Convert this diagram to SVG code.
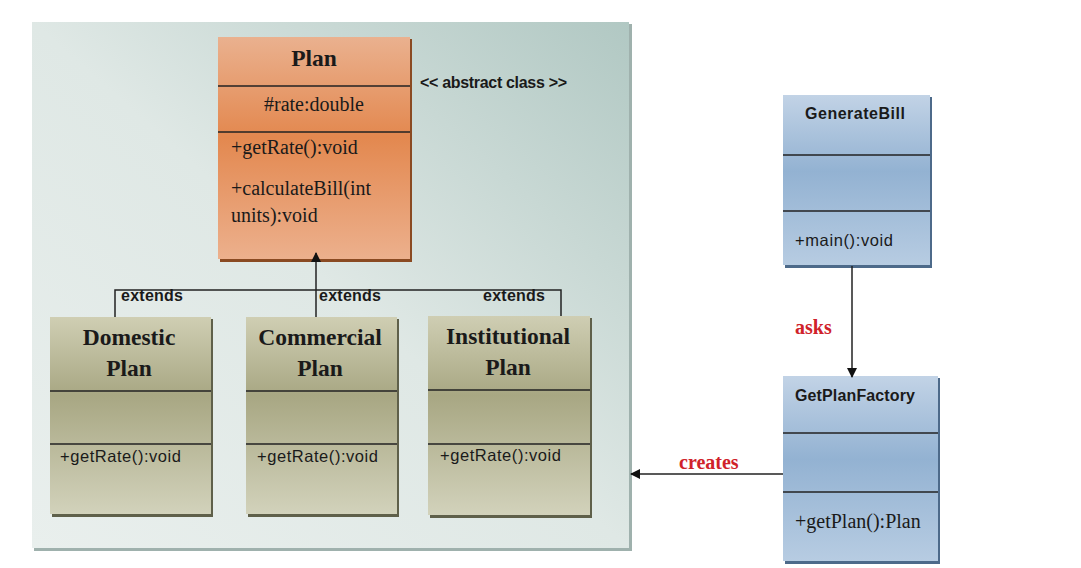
<svg xmlns="http://www.w3.org/2000/svg" width="1081" height="568" viewBox="0 0 1081 568">
<defs>
<linearGradient id="bg" x1="0" y1="1" x2="1" y2="0">
<stop offset="0" stop-color="#e9efed"/>
<stop offset="0.5" stop-color="#dfe8e5"/>
<stop offset="1" stop-color="#b1c8c3"/>
</linearGradient>
<linearGradient id="orange" x1="0" y1="0" x2="0" y2="1">
<stop offset="0" stop-color="#eab18f"/>
<stop offset="0.45" stop-color="#e3884f"/>
<stop offset="1" stop-color="#ecb08d"/>
</linearGradient>
<linearGradient id="olive" x1="0" y1="0" x2="0" y2="1">
<stop offset="0" stop-color="#cfceb3"/>
<stop offset="0.4" stop-color="#a8a783"/>
<stop offset="1" stop-color="#d2d2bb"/>
</linearGradient>
<linearGradient id="blue" x1="0" y1="0" x2="0" y2="1">
<stop offset="0" stop-color="#c2d3e6"/>
<stop offset="0.45" stop-color="#93b2d2"/>
<stop offset="1" stop-color="#b7cce2"/>
</linearGradient>
<marker id="arr" viewBox="0 0 10 10" refX="9" refY="5" markerWidth="10" markerHeight="10" markerUnits="userSpaceOnUse" orient="auto">
<path d="M0,0 L10,5 L0,10 z" fill="#111"/>
</marker>
</defs>
<style>
.div{stroke:#222;stroke-width:1.3}
.ttl{font-family:"Liberation Serif",serif;font-weight:bold;font-size:23.5px;fill:#1a1a1a;text-anchor:middle}
.ser{font-family:"Liberation Serif",serif;font-size:20px;fill:#1a1a1a}
.sans{font-family:"Liberation Sans",Arial,sans-serif;font-size:16.5px;fill:#1a1a1a}
.lbl{font-family:"Liberation Sans",Arial,sans-serif;font-size:16px;font-weight:bold;fill:#1a1a1a}
.red{font-family:"Liberation Serif",serif;font-size:20px;font-weight:bold;fill:#d0222a}
.line{stroke:#222;stroke-width:1.5;fill:none}
</style>
<rect width="1081" height="568" fill="#ffffff"/>
<g id="container">
<rect x="34" y="24" width="598" height="527" fill="#9fb1ad"/>
<rect x="32" y="22" width="597" height="526" fill="url(#bg)"/>
</g>
<g id="plan">
<rect x="220" y="39" width="192" height="223" fill="#8a4a22"/>
<rect x="218" y="37" width="192" height="222" fill="url(#orange)"/>
<line class="div" x1="218" y1="86" x2="410" y2="86"/>
<line class="div" x1="218" y1="132" x2="410" y2="132"/>
<text class="ttl" x="314" y="66">Plan</text>
<text class="ser" x="314" y="111" text-anchor="middle">#rate:double</text>
<text class="ser" x="231" y="154">+getRate():void</text>
<text class="ser" x="231" y="195">+calculateBill(int</text>
<text class="ser" x="231" y="222">units):void</text>
</g>
<g id="stereotype">
<text class="lbl" x="420" y="88" font-size="15.5" textLength="147">&lt;&lt; abstract class &gt;&gt;</text>
</g>
<g id="domestic">
<rect x="52" y="319" width="161" height="198" fill="#5f604a"/>
<rect x="50" y="317" width="161" height="197" fill="url(#olive)"/>
<line class="div" x1="50" y1="391" x2="211" y2="391"/>
<line class="div" x1="50" y1="444" x2="211" y2="444"/>
<text class="ttl" x="129" y="345">Domestic</text>
<text class="ttl" x="129" y="376">Plan</text>
<text class="sans" x="60" y="462" textLength="121">+getRate():void</text>
</g>
<g id="commercial">
<rect x="248" y="319" width="151" height="198" fill="#5f604a"/>
<rect x="246" y="317" width="151" height="197" fill="url(#olive)"/>
<line class="div" x1="246" y1="391" x2="397" y2="391"/>
<line class="div" x1="246" y1="444" x2="397" y2="444"/>
<text class="ttl" x="320" y="345">Commercial</text>
<text class="ttl" x="320" y="376">Plan</text>
<text class="sans" x="257" y="462" textLength="121">+getRate():void</text>
</g>
<g id="institutional">
<rect x="430" y="318" width="162" height="200" fill="#5f604a"/>
<rect x="428" y="316" width="162" height="199" fill="url(#olive)"/>
<line class="div" x1="428" y1="390" x2="590" y2="390"/>
<line class="div" x1="428" y1="444" x2="590" y2="444"/>
<text class="ttl" x="508" y="344">Institutional</text>
<text class="ttl" x="508" y="375">Plan</text>
<text class="sans" x="440" y="461" textLength="121">+getRate():void</text>
</g>
<g id="generatebill">
<rect x="785" y="97" width="147" height="171" fill="#4d6a8a"/>
<rect x="783" y="95" width="147" height="170" fill="url(#blue)"/>
<line class="div" x1="783" y1="155" x2="930" y2="155"/>
<line class="div" x1="783" y1="211" x2="930" y2="211"/>
<text class="lbl" x="855" y="119" text-anchor="middle" textLength="100">GenerateBill</text>
<text class="sans" x="795" y="246" textLength="98">+main():void</text>
</g>
<g id="getplanfactory">
<rect x="785" y="378" width="155" height="186" fill="#4d6a8a"/>
<rect x="783" y="376" width="155" height="185" fill="url(#blue)"/>
<line class="div" x1="783" y1="433" x2="938" y2="433"/>
<line class="div" x1="783" y1="492" x2="938" y2="492"/>
<text class="lbl" x="795" y="401" textLength="120">GetPlanFactory</text>
<text class="ser" x="795" y="528">+getPlan():Plan</text>
</g>
<g id="connectors">
<path class="line" d="M115,317 V290 H561 V316"/>
<path class="line" d="M316,317 V290"/>
<line class="line" x1="316" y1="290" x2="316" y2="253" marker-end="url(#arr)"/>
<line class="line" x1="852" y1="266" x2="852" y2="377" marker-end="url(#arr)"/>
<line class="line" x1="783" y1="474" x2="631" y2="474" marker-end="url(#arr)"/>
<text class="lbl" x="121" y="301" textLength="62">extends</text>
<text class="lbl" x="319" y="301" textLength="62">extends</text>
<text class="lbl" x="483" y="301" textLength="62">extends</text>
<text class="red" x="795" y="334">asks</text>
<text class="red" x="679" y="469">creates</text>
</g>
</svg>
